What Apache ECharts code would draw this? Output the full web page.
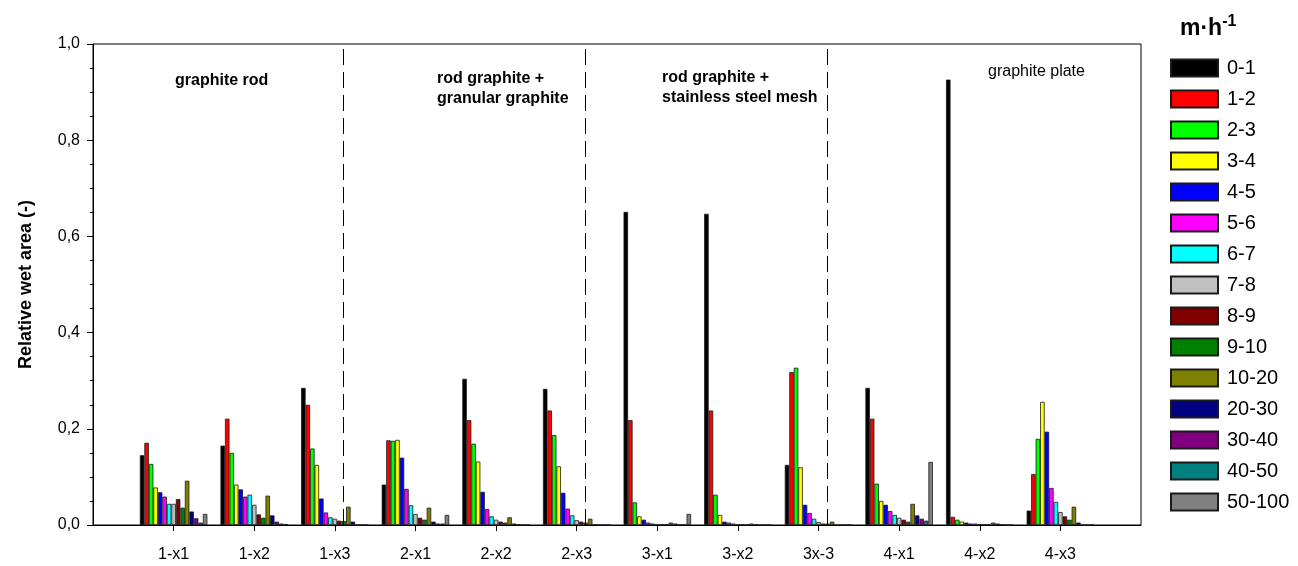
<!DOCTYPE html>
<html>
<head>
<meta charset="utf-8">
<script src="https://cdn.jsdelivr.net/npm/echarts@6/dist/echarts.min.js"></script>
<style>
html,body{margin:0;padding:0;background:#fff;}
#chart{width:1298px;height:566px;}
</style>
</head>
<body>
<div id="chart"></div>
<script>
// ---- data ----
const categories = ['1-x1','1-x2','1-x3','2-x1','2-x2','2-x3','3-x1','3-x2','3x-3','4-x1','4-x2','4-x3'];
const seriesNames = ['0-1','1-2','2-3','3-4','4-5','5-6','6-7','7-8','8-9','9-10','10-20','20-30','30-40','40-50','50-100'];
const seriesColors = ['#000000','#ff0000','#00ff00','#ffff00','#0000ff','#ff00ff','#00ffff','#c0c0c0','#800000','#008000','#808000','#000080','#800080','#008080','#808080'];
const yTicks = [0, 0.2, 0.4, 0.6, 0.8, 1.0];

const v_0_1    = [0.145, 0.165, 0.285, 0.084, 0.304, 0.283, 0.651, 0.647, 0.125, 0.285, 0.926, 0.030];
const v_1_2    = [0.171, 0.221, 0.250, 0.176, 0.218, 0.238, 0.218, 0.238, 0.318, 0.221, 0.017, 0.106];
const v_2_3    = [0.127, 0.150, 0.159, 0.175, 0.169, 0.187, 0.047, 0.063, 0.327, 0.086, 0.011, 0.179];
const v_3_4    = [0.078, 0.084, 0.125, 0.177, 0.132, 0.122, 0.018, 0.021, 0.120, 0.050, 0.007, 0.256];
const v_4_5    = [0.068, 0.074, 0.055, 0.140, 0.069, 0.067, 0.011, 0.007, 0.042, 0.042, 0.005, 0.194];
const v_5_6    = [0.059, 0.059, 0.026, 0.075, 0.033, 0.034, 0.005, 0.005, 0.025, 0.029, 0.003, 0.077];
const v_6_7    = [0.044, 0.063, 0.016, 0.041, 0.018, 0.020, 0.003, 0.003, 0.013, 0.021, 0.003, 0.048];
const v_7_8    = [0.044, 0.042, 0.013, 0.023, 0.011, 0.010, 0.001, 0.001, 0.006, 0.015, 0.002, 0.027];
const v_8_9    = [0.054, 0.022, 0.009, 0.015, 0.007, 0.007, 0.001, 0.001, 0.003, 0.011, 0.001, 0.018];
const v_9_10   = [0.036, 0.015, 0.008, 0.011, 0.005, 0.005, 0.001, 0.000, 0.003, 0.007, 0.001, 0.011];
const v_10_20  = [0.092, 0.061, 0.038, 0.036, 0.016, 0.013, 0.005, 0.003, 0.007, 0.044, 0.005, 0.038];
const v_20_30  = [0.028, 0.020, 0.007, 0.007, 0.003, 0.001, 0.003, 0.001, 0.000, 0.020, 0.003, 0.005];
const v_30_40  = [0.014, 0.007, 0.000, 0.003, 0.001, 0.000, 0.001, 0.000, 0.000, 0.013, 0.001, 0.000];
const v_40_50  = [0.005, 0.003, 0.000, 0.003, 0.000, 0.000, 0.001, 0.000, 0.000, 0.009, 0.000, 0.000];
const v_50_100 = [0.023, 0.002, 0.000, 0.021, 0.000, 0.000, 0.023, 0.000, 0.000, 0.131, 0.000, 0.000];

const allValues = [v_0_1, v_1_2, v_2_3, v_3_4, v_4_5, v_5_6, v_6_7, v_7_8, v_8_9, v_9_10, v_10_20, v_20_30, v_30_40, v_40_50, v_50_100];
const groupSeparators = [3.5, 6.5, 9.5];

// ---- chart ----
const FONT = '"Liberation Sans", Arial, sans-serif';
const chart = echarts.init(document.getElementById('chart'), null, {renderer: 'canvas'});

const series = seriesNames.map((name, s) => {
  const obj = {
    name: name,
    type: 'bar',
    barWidth: 4.5,
    barGap: '0%',
    itemStyle: {color: seriesColors[s], borderColor: '#1a1a1a', borderWidth: 0.8},
    data: categories.map((c, i) => [i + 1, allValues[s][i]]),
    animation: false
  };
  if (s === 0) {
    obj.markLine = {
      silent: true,
      symbol: 'none',
      label: {show: false},
      lineStyle: {color: '#000', width: 1, type: [16, 7]},
      data: groupSeparators.map(x => ({xAxis: x}))
    };
  }
  return obj;
});

const option = {
  animation: false,
  backgroundColor: '#fff',
  textStyle: {fontFamily: FONT},
  grid: {left: 93, right: 157, top: 44, bottom: 41, show: true, borderColor: '#000', borderWidth: 1, backgroundColor: 'transparent'},
  legend: {
    orient: 'vertical',
    left: 1170,
    top: 58,
    padding: 0,
    icon: 'rect',
    itemWidth: 47,
    itemHeight: 17,
    itemGap: 11,
    selectedMode: false,
    data: seriesNames,
    textStyle: {fontSize: 20, color: '#000', fontFamily: FONT, lineHeight: 20, padding: [0, 0, 0, 4]}
  },
  xAxis: {
    type: 'value',
    min: 0,
    max: 13,
    interval: 1,
    splitLine: {show: false},
    axisLine: {show: true, lineStyle: {color: '#000', width: 1}},
    axisTick: {show: true, length: 6, lineStyle: {color: '#000'}, customValues: categories.map((c, i) => i + 1)},
    axisLabel: {
      fontSize: 16, color: '#000', margin: 22, fontFamily: FONT,
      customValues: categories.map((c, i) => i + 1),
      formatter: v => (v >= 1 && v <= categories.length) ? categories[v - 1] : ''
    }
  },
  yAxis: {
    type: 'value',
    min: 0,
    max: 1,
    interval: 0.2,
    name: 'Relative wet area (-)',
    nameLocation: 'middle',
    nameRotate: 90,
    nameGap: 58,
    nameTextStyle: {fontSize: 18, fontWeight: 'bold', color: '#000', fontFamily: FONT},
    splitLine: {show: false},
    axisLine: {show: true, lineStyle: {color: '#000', width: 1}},
    axisTick: {show: true, length: 6, lineStyle: {color: '#000'}},
    minorTick: {show: true, splitNumber: 4, length: 3, lineStyle: {color: '#000'}},
    axisLabel: {
      fontSize: 16, color: '#000', margin: 13, fontFamily: FONT,
      formatter: v => {
        const t = yTicks.find(x => Math.abs(x - v) < 1e-9);
        return t === undefined ? '' : t.toFixed(1).replace('.', ',');
      }
    }
  },
  graphic: [
    {type: 'text', left: 1180, top: 14, style: {
      text: '{a|m·h}{b|-1}',
      rich: {
        a: {fontSize: 23, fontWeight: 'bold', fill: '#000', fontFamily: FONT, verticalAlign: 'bottom'},
        b: {fontSize: 16, fontWeight: 'bold', fill: '#000', fontFamily: FONT, verticalAlign: 'top', padding: [0, 0, 10, 0]}
      }
    }},
    {type: 'text', left: 175, top: 73, style: {text: 'graphite rod', fontSize: 16, fontWeight: 'bold', fill: '#000', fontFamily: FONT}},
    {type: 'text', left: 437, top: 69, style: {text: 'rod graphite +\ngranular graphite', fontSize: 16, fontWeight: 'bold', lineHeight: 20, fill: '#000', fontFamily: FONT}},
    {type: 'text', left: 662, top: 68, style: {text: 'rod graphite +\nstainless steel mesh', fontSize: 16, fontWeight: 'bold', lineHeight: 20, fill: '#000', fontFamily: FONT}},
    {type: 'text', left: 988, top: 64, style: {text: 'graphite plate', fontSize: 16, fill: '#000', fontFamily: FONT}}
  ],
  series: series
};
chart.setOption(option);
</script>
</body>
</html>
